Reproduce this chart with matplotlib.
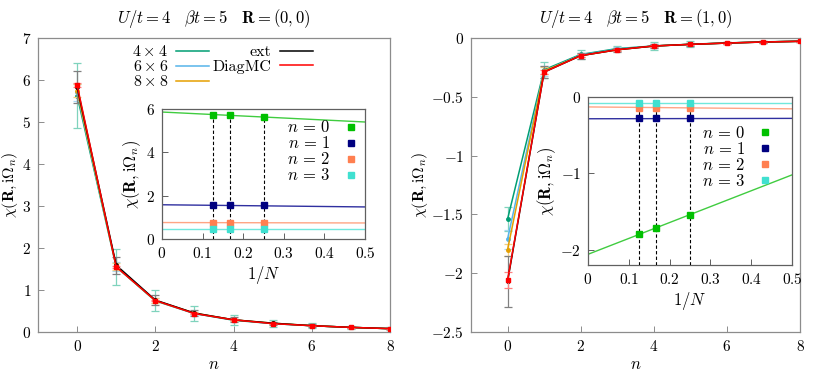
import numpy as np
import matplotlib
matplotlib.use("Agg")
import matplotlib.pyplot as plt
from matplotlib.ticker import FuncFormatter
from matplotlib.lines import Line2D

plt.rcParams['mathtext.fontset'] = 'cm'
plt.rcParams['font.family'] = ['serif']
plt.rcParams['font.serif'] = ['cmr10', 'DejaVu Serif']
plt.rcParams['axes.unicode_minus'] = False

# ---------------- data ----------------
n = [0, 1, 2, 3, 4, 5, 6, 7, 8]
sizes = ["$4\\times4$", "$6\\times6$", "$8\\times8$"]

# R = (0,0)
L_4x4 = [5.63, 1.55, 0.74, 0.44, 0.28, 0.20, 0.15, 0.11, 0.08]
L_6x6 = [5.71, 1.56, 0.75, 0.44, 0.29, 0.20, 0.15, 0.11, 0.08]
L_8x8 = [5.745, 1.56, 0.75, 0.45, 0.29, 0.21, 0.15, 0.11, 0.08]
L_ext = [5.83, 1.59, 0.76, 0.45, 0.29, 0.21, 0.15, 0.11, 0.08]
L_diag = [5.88, 1.55, 0.75, 0.44, 0.29, 0.20, 0.15, 0.11, 0.08]
L_4x4_err = [0.78, 0.42, 0.25, 0.17, 0.12, 0.08, 0.06, 0.04, 0.03]
L_6x6_err = [0.20, 0.10, 0.06, 0.04, 0.03, 0.02, 0.015, 0.01, 0.01]
L_8x8_err = [0.15, 0.08, 0.05, 0.03, 0.02, 0.015, 0.01, 0.01, 0.01]
L_ext_err = [0.38, 0.20, 0.12, 0.08, 0.06, 0.04, 0.03, 0.02, 0.015]
L_diag_err = [0.05, 0.03, 0.02, 0.01, 0.01, 0.01, 0.005, 0.005, 0.005]

# R = (1,0)
R_4x4 = [-1.54, -0.27, -0.14, -0.09, -0.068, -0.053, -0.042, -0.033, -0.027]
R_6x6 = [-1.71, -0.28, -0.145, -0.095, -0.068, -0.054, -0.043, -0.034, -0.028]
R_8x8 = [-1.80, -0.28, -0.15, -0.10, -0.068, -0.054, -0.043, -0.034, -0.028]
R_ext = [-2.07, -0.29, -0.15, -0.10, -0.068, -0.054, -0.043, -0.034, -0.028]
R_diag = [-2.06, -0.29, -0.15, -0.10, -0.068, -0.054, -0.043, -0.034, -0.028]
R_4x4_err = [0.10, 0.07, 0.04, 0.02, 0.03, 0.025, 0.012, 0.01, 0.008]
R_6x6_err = [0.08, 0.04, 0.02, 0.015, 0.015, 0.01, 0.01, 0.008, 0.006]
R_8x8_err = [0.05, 0.03, 0.015, 0.01, 0.01, 0.008, 0.006, 0.005, 0.004]
R_ext_err = [0.22, 0.05, 0.025, 0.015, 0.015, 0.01, 0.01, 0.008, 0.005]
R_diag_err = [0.07, 0.015, 0.01, 0.008, 0.006, 0.005, 0.004, 0.004, 0.003]

# insets: extrapolation in 1/N
invN = [0.125, 1 / 6, 0.25]
inset_labels = ["$n\\,=\\,0$", "$n\\,=\\,1$", "$n\\,=\\,2$", "$n\\,=\\,3$"]
L_in = [[5.745, 5.71, 5.63], [1.56, 1.56, 1.55], [0.75, 0.75, 0.75], [0.45, 0.45, 0.45]]
L_fit_x = [0.0, 0.5]
L_fit = [[5.86, 5.40], [1.58, 1.48], [0.76, 0.74], [0.45, 0.45]]
R_in = [[-1.80, -1.71, -1.54], [-0.275, -0.275, -0.275], [-0.14, -0.14, -0.14], [-0.085, -0.085, -0.085]]
R_fit_x = [0.0, 0.5]
R_fit = [[-2.06, -1.02], [-0.285, -0.28], [-0.13, -0.155], [-0.08, -0.08]]

# ---------------- style ----------------
c_sizes = ["#009e73", "#56b4e9", "#e69f00"]
c_sizes_err = ["#7fd3bd", "#a9d9f4", "#f2cf7f"]
c_ext, c_ext_err = "black", "#808080"
c_diag, c_diag_err = "#ff0000", "#ff8080"
c_in = ["#00c000", "#000080", "#ff7f50", "#40e0d0"]
c_in_line = ["#40cc40", "#3030a0", "#ffa584", "#70e8dc"]

fmt = FuncFormatter(lambda v, p: "$%g$" % round(v, 6))

fig = plt.figure(figsize=(8.22, 3.74), dpi=100)
axL = fig.add_axes([38 / 822, 42 / 374, 352 / 822, 294 / 374])
axR = fig.add_axes([471 / 822, 42 / 374, 329 / 822, 294 / 374])
inL = fig.add_axes([162 / 822, 135 / 374, 203 / 822, 130 / 374])
inR = fig.add_axes([588 / 822, 109 / 374, 204 / 822, 168 / 374])


def style(ax, spine_col, fs):
    for s in ax.spines.values():
        s.set_color(spine_col)
        s.set_linewidth(0.9)
    ax.tick_params(direction='in', length=4, width=0.7, color=spine_col,
                   labelsize=fs, top=False, right=False, pad=5)
    ax.xaxis.set_major_formatter(fmt)
    ax.yaxis.set_major_formatter(fmt)


def main_panel(ax, data, errs, title, ylim, yticks):
    series = list(zip(data, errs))
    for i in range(3):
        y, e = series[i]
        ax.errorbar(n, y, yerr=e, color=c_sizes[i], ecolor=c_sizes_err[i], lw=1.1,
                    marker='o', ms=2.5, capsize=3, elinewidth=0.9, capthick=0.9,
                    label=sizes[i], zorder=2 + i * 0.1)
    y, e = series[3]
    ax.errorbar(n, y, yerr=e, color=c_ext, ecolor=c_ext_err, lw=1.1, marker='o', ms=2.5,
                capsize=3, elinewidth=0.9, capthick=0.9, label="ext", zorder=3)
    y, e = series[4]
    ax.errorbar(n, y, yerr=e, color=c_diag, ecolor=c_diag_err, lw=1.1, marker='s', ms=3.2,
                capsize=3, elinewidth=0.9, capthick=0.9, label="DiagMC", zorder=4)
    ax.set_xlim(-1, 8)
    ax.set_ylim(*ylim)
    ax.set_yticks(yticks)
    ax.set_xticks([0, 2, 4, 6, 8])
    ax.set_xlabel("$n$", fontsize=12, labelpad=2)
    ax.set_ylabel("$\\chi(\\mathbf{R},\\mathrm{i}\\Omega_n)$", fontsize=11.5, labelpad=1)
    ax.set_title(title, fontsize=12, pad=11)
    style(ax, "#8c8c8c", 11)


main_panel(axL, [L_4x4, L_6x6, L_8x8, L_ext, L_diag],
           [L_4x4_err, L_6x6_err, L_8x8_err, L_ext_err, L_diag_err],
           "$U/t=4\\quad \\beta t=5\\quad \\mathbf{R}=(0,0)$", (0, 7), range(0, 8))
main_panel(axR, [R_4x4, R_6x6, R_8x8, R_ext, R_diag],
           [R_4x4_err, R_6x6_err, R_8x8_err, R_ext_err, R_diag_err],
           "$U/t=4\\quad \\beta t=5\\quad \\mathbf{R}=(1,0)$", (-2.5, 0),
           [-2.5, -2, -1.5, -1, -0.5, 0])

# legend on left panel (gnuplot style: label then line)
proxies = [Line2D([], [], color=c_sizes[0], lw=1.1),
           Line2D([], [], color=c_sizes[1], lw=1.1),
           Line2D([], [], color=c_sizes[2], lw=1.1),
           Line2D([], [], color=c_ext, lw=1.1),
           Line2D([], [], color=c_diag, lw=1.1)]
labels = sizes + ["ext", "DiagMC"]
axL.legend(proxies, labels, ncol=2, loc='upper left', bbox_to_anchor=(0.25, 1.0),
           frameon=False, markerfirst=False, fontsize=11.5, handlelength=2.1,
           handletextpad=0.5, columnspacing=0.2, labelspacing=0.0, borderaxespad=0)


def inset_panel(ax, pts, fit_x, fits, ylim, yticks, leg_anchor):
    for k in range(4):
        ax.plot(fit_x, fits[k], color=c_in_line[k], lw=1.0, zorder=2)
    tops = np.max(np.array(pts), axis=0)
    ax.vlines(invN, ylim[0], tops, colors='black', linestyles=(0, (3, 2)), lw=0.8, zorder=3)
    for k in range(4):
        ax.plot(invN, pts[k], ls='none', marker='s', ms=5, color=c_in[k],
                label=inset_labels[k], zorder=4)
    ax.set_xlim(0, 0.5)
    ax.set_ylim(*ylim)
    ax.set_yticks(yticks)
    ax.set_xticks([0, 0.1, 0.2, 0.3, 0.4, 0.5])
    ax.set_xlabel("$1/N$", fontsize=12, labelpad=2)
    ax.set_ylabel("$\\chi(\\mathbf{R},\\mathrm{i}\\Omega_n)$", fontsize=12, labelpad=2)
    style(ax, "#606060", 11)
    ax.legend(loc='upper right', bbox_to_anchor=leg_anchor, frameon=False, markerfirst=False,
              fontsize=12, handlelength=1.0, handletextpad=0.7, labelspacing=0.0,
              borderaxespad=0, borderpad=0)


inset_panel(inL, L_in, L_fit_x, L_fit, (0, 6), [0, 2, 4, 6], (0.97, 0.92))
inset_panel(inR, R_in, R_fit_x, R_fit, (-2.2, 0), [-2, -1, 0], (0.91, 0.835))

fig.savefig("out.png", dpi=100)
